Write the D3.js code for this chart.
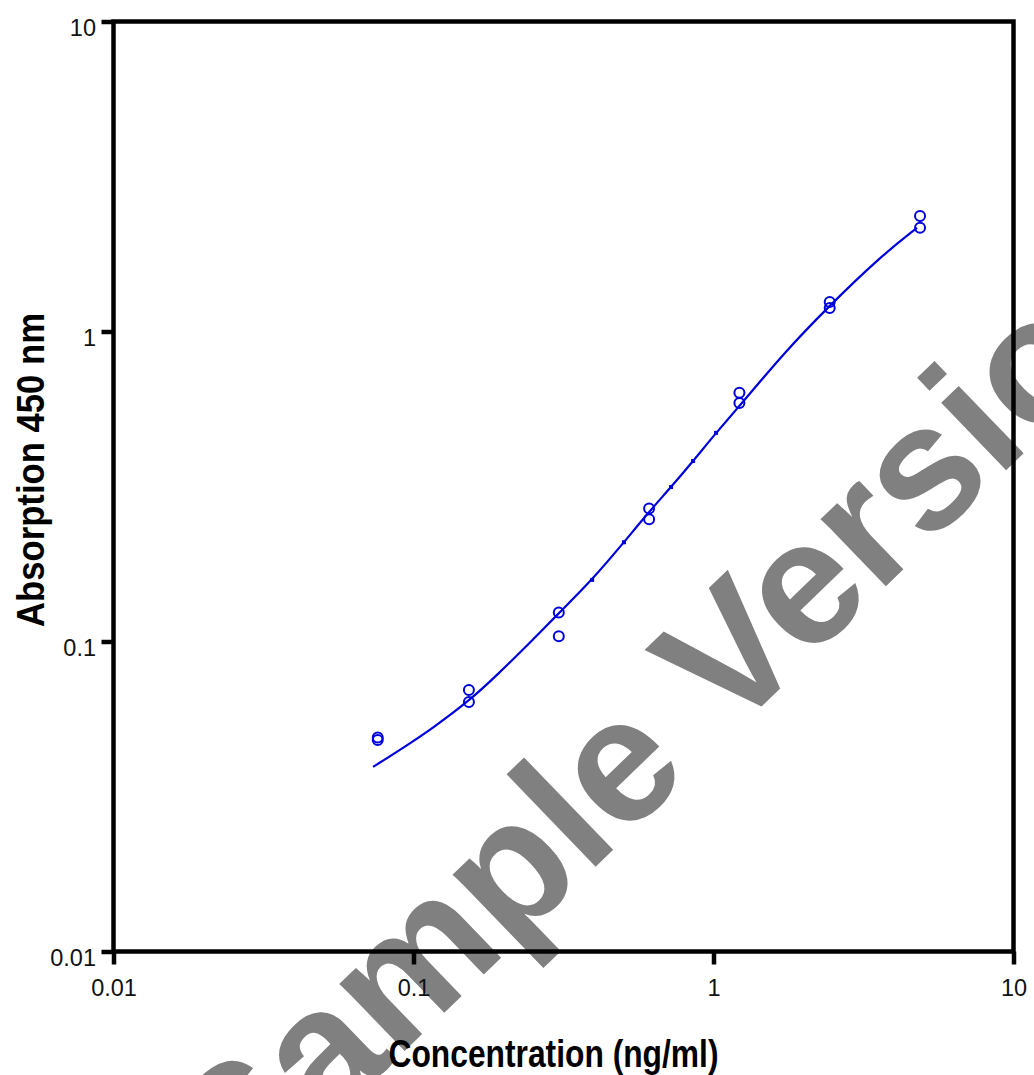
<!DOCTYPE html>
<html>
<head>
<meta charset="utf-8">
<script src="https://cdn.jsdelivr.net/npm/d3@7"></script>
<style>
  html, body { margin: 0; padding: 0; background: #fff; }
  svg { display: block; }
</style>
</head>
<body>
<svg id="chart" width="1034" height="1075"></svg>
<script>
// ---- data ----
const concentrations = [0.076, 0.153, 0.305, 0.61, 1.22, 2.44, 4.88];
const replicate1 = [0.049, 0.0698, 0.124, 0.2686, 0.634, 1.245, 2.36];
const replicate2 = [0.0481, 0.0638, 0.104, 0.248, 0.588, 1.19, 2.16];

const curveX = [0.0733, 0.0902, 0.1161, 0.154, 0.190, 0.244, 0.303, 0.394, 0.503, 0.605, 0.722, 0.855, 1.02, 1.254, 1.73, 2.39, 3.59, 4.77];
const curveY = [0.0394, 0.0447, 0.0526, 0.0646, 0.078, 0.0989, 0.1227, 0.158, 0.209, 0.2597, 0.315, 0.382, 0.471, 0.593, 0.859, 1.19, 1.74, 2.16];

const sampleX = [0.394, 0.503, 0.722, 0.855, 1.02];
const sampleY = [0.158, 0.209, 0.315, 0.382, 0.471];

const xTicks = [0.01, 0.1, 1, 10];
const yTicks = [0.01, 0.1, 1, 10];
const xTickLabels = ["0.01", "0.1", "1", "10"];
const yTickLabels = ["0.01", "0.1", "1", "10"];

const xTitle = "Concentration (ng/ml)";
const yTitle = "Absorption 450 nm";
const watermark = "Sample Version";

(function () {
// ---- layout ----
const mLeft = 113.5, mRight = 1013.5, mTop = 21.5, mBottom = 951.5;
const blue = "#0000dd";
const font = "'Liberation Sans', Arial, Helvetica, sans-serif";

const svg = d3.select("#chart");

// watermark (drawn underneath)
svg.append("text")
  .attr("transform", "translate(240,1210) rotate(-44)")
  .attr("text-anchor", "start")
  .style("font-family", font).style("font-weight", "bold").style("font-size", "177px")
  .attr("fill", "#808080")
  .text(watermark);

const x = d3.scaleLog().domain([0.01, 10]).range([mLeft, mRight]);
const y = d3.scaleLog().domain([0.01, 10]).range([mBottom, mTop]);

// axes
const xAxis = d3.axisBottom(x).tickValues(xTicks)
  .tickFormat((d, i) => xTickLabels[i]).tickSize(13).tickSizeOuter(0).tickPadding(14);
const yAxis = d3.axisLeft(y).tickValues(yTicks)
  .tickFormat((d, i) => yTickLabels[i]).tickSize(12).tickSizeOuter(0).tickPadding(5);

const gx = svg.append("g").attr("transform", `translate(0,${mBottom})`).call(xAxis);
const gy = svg.append("g").attr("transform", `translate(${mLeft},0)`).call(yAxis);

[gx, gy].forEach(g => {
  g.select(".domain").remove();
  g.selectAll(".tick line").attr("stroke", "#000").attr("stroke-width", 4.5);
  g.selectAll(".tick text").attr("fill", "#111").style("font-family", font).style("font-size", "23.5px");
});
gx.selectAll(".tick text").attr("dy", null).attr("y", 44);
gy.selectAll(".tick text").attr("dy", null).attr("y", 13.5).attr("x", -17.5);

// frame
svg.append("rect")
  .attr("x", mLeft).attr("y", mTop)
  .attr("width", mRight - mLeft).attr("height", mBottom - mTop)
  .attr("fill", "none").attr("stroke", "#000").attr("stroke-width", 4.5);

// fitted curve
const curvePts = curveX.map((c, i) => [c, curveY[i]]);
svg.append("path")
  .datum(curvePts)
  .attr("fill", "none").attr("stroke", blue).attr("stroke-width", 2.2)
  .attr("d", d3.line().x(d => x(d[0])).y(d => y(d[1])).curve(d3.curveBasis));

// small curve sample markers
svg.append("g").selectAll("rect")
  .data(sampleX.map((c, i) => [c, sampleY[i]]))
  .join("rect")
  .attr("x", d => x(d[0]) - 2).attr("y", d => y(d[1]) - 2)
  .attr("width", 4).attr("height", 4).attr("fill", blue);

// data points
const pts = [];
concentrations.forEach((c, i) => { pts.push([c, replicate1[i]]); pts.push([c, replicate2[i]]); });
svg.append("g").selectAll("circle")
  .data(pts).join("circle")
  .attr("cx", d => x(d[0])).attr("cy", d => y(d[1]))
  .attr("r", 5).attr("fill", "none").attr("stroke", blue).attr("stroke-width", 2);

// axis titles
svg.append("text")
  .attr("x", (mLeft + mRight) / 2 - 10).attr("y", 1067)
  .attr("text-anchor", "middle")
  .attr("textLength", 330).attr("lengthAdjust", "spacingAndGlyphs")
  .style("font-family", font).style("font-weight", "bold").style("font-size", "38px")
  .attr("fill", "#000")
  .text(xTitle);

svg.append("text")
  .attr("transform", `translate(44,470) rotate(-90)`)
  .attr("text-anchor", "middle")
  .attr("textLength", 314).attr("lengthAdjust", "spacingAndGlyphs")
  .style("font-family", font).style("font-weight", "bold").style("font-size", "38px")
  .attr("fill", "#000")
  .text(yTitle);
})();
</script>
</body>
</html>
